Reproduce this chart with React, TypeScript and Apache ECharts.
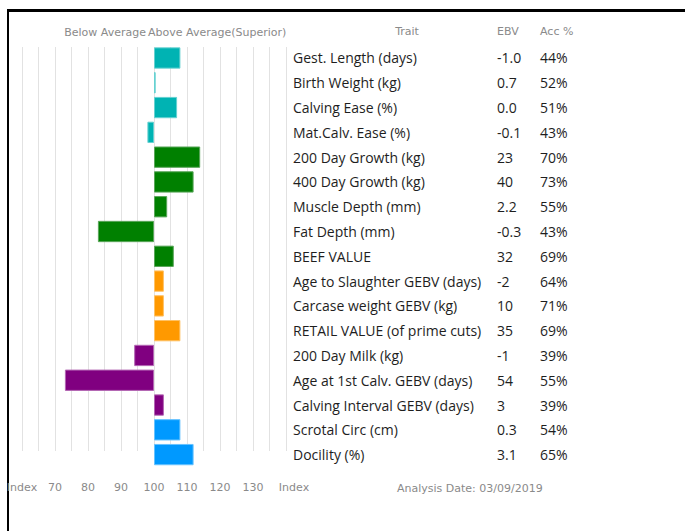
import React, { useEffect, useRef } from "react";
import * as echarts from "echarts";

const traits = [
  "Gest. Length (days)",
  "Birth Weight (kg)",
  "Calving Ease (%)",
  "Mat.Calv. Ease (%)",
  "200 Day Growth (kg)",
  "400 Day Growth (kg)",
  "Muscle Depth (mm)",
  "Fat Depth (mm)",
  "BEEF VALUE",
  "Age to Slaughter GEBV (days)",
  "Carcase weight GEBV (kg)",
  "RETAIL VALUE (of prime cuts)",
  "200 Day Milk (kg)",
  "Age at 1st Calv. GEBV (days)",
  "Calving Interval GEBV (days)",
  "Scrotal Circ (cm)",
  "Docility (%)",
];
const ebvValues = ["-1.0", "0.7", "0.0", "-0.1", "23", "40", "2.2", "-0.3", "32", "-2", "10", "35", "-1", "54", "3", "0.3", "3.1"];
const accValues = ["44%", "52%", "51%", "43%", "70%", "73%", "55%", "43%", "69%", "64%", "71%", "69%", "39%", "55%", "39%", "54%", "65%"];
const indexValues = [108, 100.5, 107, 98, 114, 112, 104, 83, 106, 103, 103, 108, 94, 73, 103, 108, 112];
const traitGroups = [
  "calving", "calving", "calving", "calving",
  "growth", "growth", "growth", "growth", "growth",
  "carcase", "carcase", "carcase",
  "maternal", "maternal", "maternal",
  "fertility", "fertility",
];
const indexTicks = [70, 80, 90, 100, 110, 120, 130];
const indexMin = 60;
const indexMax = 140;
const indexBase = 100;

const groupColors: Record<string, string> = {
  calving: "#00b3b3",
  growth: "#008000",
  carcase: "#ff9900",
  maternal: "#800080",
  fertility: "#0099ff",
};
const groupBorders: Record<string, string> = {
  calving: "#66d1d1",
  growth: "#5aa65a",
  carcase: "#ffc266",
  maternal: "#b366b3",
  fertility: "#66c2ff",
};

const GRID_LEFT = 22;
const GRID_WIDTH = 264;
const axisFont = "DejaVu Sans";
const gray = "#8a8a8a";

export default function App() {
  const ref = useRef<HTMLDivElement>(null);
  useEffect(() => {
    if (!ref.current) return;
    const chart = echarts.init(ref.current, undefined, { renderer: "svg" });
    const labelAxisBase = {
      type: "category" as const,
      gridIndex: 0,
      inverse: true,
      position: "right" as const,
      axisLine: { show: false },
      axisTick: { show: false },
      splitLine: { show: false },
    };
    const labelStyle = {
      margin: 7,
      align: "left" as const,
      interval: 0,
      color: "#1e1e1e",
      fontFamily: "Open Sans",
      fontSize: 14,
    };
    chart.setOption({
      animation: false,
      grid: [
        { left: GRID_LEFT, width: GRID_WIDTH, top: 45.6, height: 421.4, outerBoundsMode: "none" },
        { left: GRID_LEFT, width: GRID_WIDTH, top: 47, height: 404, outerBoundsMode: "none" },
      ],
      xAxis: [
        {
          type: "value",
          gridIndex: 0,
          min: indexMin - indexBase,
          max: indexMax - indexBase,
          interval: 5,
          axisLine: { show: false },
          axisTick: { show: false },
          splitLine: { show: false },
          axisLabel: {
            interval: 0,
            margin: 15,
            color: gray,
            fontFamily: axisFont,
            fontSize: 11,
            formatter: (v: number) => {
              const idx = Math.round(v + indexBase);
              if (idx === indexMin) return "Index";
              if (idx === indexMax) return "{r|Index}";
              if (indexTicks.includes(idx)) return String(idx);
              return "";
            },
            rich: {
              r: { padding: [0, 0, 0, 16], color: gray, fontFamily: axisFont, fontSize: 11 },
            },
          },
        },
        {
          type: "value",
          gridIndex: 1,
          min: indexMin - indexBase,
          max: indexMax - indexBase,
          interval: 5,
          axisLine: { show: false },
          axisTick: { show: false },
          axisLabel: { show: false },
          splitLine: { show: true, lineStyle: { color: "#e2e2e2", width: 1 } },
        },
      ],
      yAxis: [
        { ...labelAxisBase, data: traits, axisLabel: { ...labelStyle } },
        { ...labelAxisBase, data: ebvValues, offset: 204, axisLabel: { ...labelStyle } },
        { ...labelAxisBase, data: accValues, offset: 247, axisLabel: { ...labelStyle } },
        { type: "value", gridIndex: 1, show: false, min: 0, max: 1 },
      ],
      series: [
        {
          type: "bar",
          xAxisIndex: 0,
          yAxisIndex: 0,
          barWidth: "86%",
          data: indexValues.map((v, i) => ({
            value: v - indexBase,
            itemStyle: {
              color: groupColors[traitGroups[i]],
              borderColor: groupBorders[traitGroups[i]],
              borderWidth: 1,
            },
          })),
        },
      ],
      graphic: [
        { type: "rect", shape: { x: 7, y: 9, width: 678, height: 3 }, style: { fill: "#000" } },
        { type: "rect", shape: { x: 7, y: 9, width: 2, height: 522 }, style: { fill: "#000" } },
        {
          type: "text", x: 146, y: 32,
          style: { text: "Below Average", fill: gray, font: `11px '${axisFont}'`, textAlign: "right", textVerticalAlign: "middle" },
        },
        {
          type: "text", x: 148, y: 32,
          style: { text: "Above Average(Superior)", fill: gray, font: `11px '${axisFont}'`, textAlign: "left", textVerticalAlign: "middle" },
        },
        {
          type: "text", x: 407, y: 31,
          style: { text: "Trait", fill: gray, font: `11px '${axisFont}'`, textAlign: "center", textVerticalAlign: "middle" },
        },
        {
          type: "text", x: 497, y: 31,
          style: { text: "EBV", fill: gray, font: `11px '${axisFont}'`, textAlign: "left", textVerticalAlign: "middle" },
        },
        {
          type: "text", x: 540, y: 31,
          style: { text: "Acc %", fill: gray, font: `11px '${axisFont}'`, textAlign: "left", textVerticalAlign: "middle" },
        },
        {
          type: "text", x: 397, y: 488,
          style: { text: "Analysis Date: 03/09/2019", fill: gray, font: `11px '${axisFont}'`, textAlign: "left", textVerticalAlign: "middle" },
        },
      ],
    });
    return () => chart.dispose();
  }, []);
  return (
    <div
      ref={ref}
      style={{ position: "fixed", left: 0, top: 0, width: 685, height: 531, background: "#fff" }}
    />
  );
}
